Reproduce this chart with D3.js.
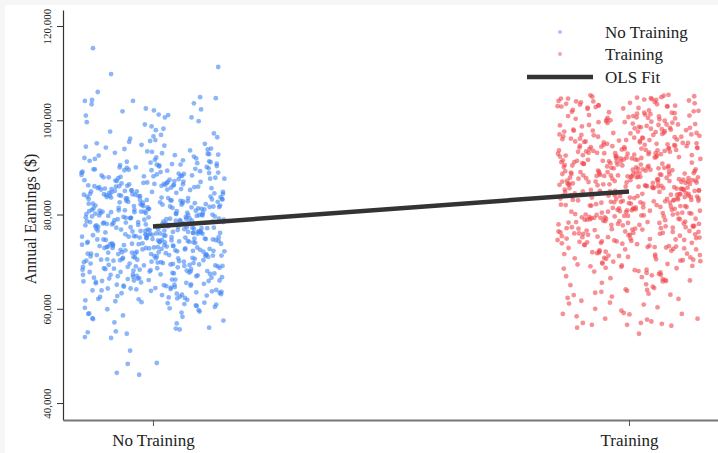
<!DOCTYPE html>
<html>
<head>
<meta charset="utf-8">
<script src="https://cdn.jsdelivr.net/npm/d3@7"></script>
<style>
html,body{margin:0;padding:0;background:#fff;}
svg{display:block;}
text{font-family:"Liberation Serif","Times New Roman",serif;fill:#222;}
</style>
</head>
<body>
<svg id="chart" width="718" height="453"></svg>
<script>
// ---------- data ----------
const categories = ["No Training", "Training"];
const yTicks = [40000, 60000, 80000, 100000, 120000];
const olsFit = [77450, 84900]; // fitted earnings at each category
const legendItems = ["No Training", "Training", "OLS Fit"];

// annual earnings ($ thousands), No Training group
const noTrainEarn = [
78.4,66.2,91.3,72.8,84.1,59.7,75.6,69.9,88.2,80.5,63.4,73.1,95.8,77.2,82.9,67.5,86.7,71.4,79.8,61.9,
74.3,83.6,92.7,68.1,76.9,57.8,81.2,89.4,70.6,64.8,78.9,85.3,72.2,99.1,66.9,80.1,75.2,62.7,87.6,73.7,
69.3,77.7,84.8,90.6,71.9,63.1,79.3,86.1,74.9,67.8,81.7,58.9,76.1,93.4,70.2,83.2,65.6,78.1,88.9,72.5,
80.9,61.2,74.7,96.4,68.6,85.9,77.4,71.1,82.4,64.1,89.8,75.9,66.4,79.1,91.8,73.4,84.4,69.6,101.2,76.6,
72.1,83.9,65.2,78.6,87.1,70.8,60.4,81.5,94.2,74.1,67.1,79.6,86.5,62.3,76.4,90.1,73.9,82.1,68.9,55.6,
77.9,85.6,71.6,64.5,80.3,92.3,75.4,69.1,83.4,88.5,66.6,78.2,73.2,97.6,81.9,63.8,76.8,86.9,70.4,59.2,
74.6,82.7,67.3,79.4,90.9,72.6,84.6,65.9,77.1,61.6,88.1,75.1,80.7,69.4,93.9,71.3,83.1,78.7,64.3,86.3,
73.6,81.1,68.3,76.3,89.1,62.9,79.9,85.1,70.1,95.1,74.4,66.1,82.6,77.6,91.1,72.9,58.3,84.2,69.8,103.4,
80.2,75.8,63.6,87.9,71.8,78.3,67.9,83.8,92.9,74.8,65.1,81.4,76.2,89.6,70.7,60.9,79.2,85.8,73.3,98.2,
68.4,77.3,84.9,72.3,64.9,90.4,80.8,75.3,86.2,69.2,82.2,57.1,78.8,71.7,94.6,66.8,83.3,76.7,88.6,62.1,
79.7,73.8,87.4,65.4,81.6,70.3,91.6,76.1,84.3,68.8,61.4,78.5,74.2,96.9,82.8,67.2,89.3,72.4,80.4,75.7,
63.9,85.4,71.2,77.8,93.1,69.7,83.7,66.3,79.5,88.3,74.5,60.2,81.3,76.5,90.7,72.7,86.6,68.2,100.6,78.0,
75.5,82.3,67.7,80.6,59.4,73.5,87.8,70.9,84.7,64.6,77.5,92.1,71.5,79.0,86.4,65.8,83.5,74.0,95.4,69.0,
81.8,76.0,62.5,88.7,72.0,78.4,66.5,85.2,91.4,73.0,80.0,68.5,83.0,75.0,97.2,70.5,63.2,86.0,77.0,89.9,
71.0,84.0,65.0,79.3,90.3,74.7,61.0,82.5,76.4,87.3,69.5,80.9,73.1,94.0,67.0,78.6,85.5,72.2,58.6,83.6,
77.2,68.7,86.8,74.1,81.0,64.2,89.5,75.9,70.0,92.5,79.9,66.0,84.5,72.9,78.1,99.6,63.0,82.0,76.3,88.0,
73.3,80.6,67.4,85.0,71.1,91.9,77.7,62.4,83.9,75.2,69.3,87.0,79.4,65.3,81.9,74.6,96.1,70.8,86.2,56.9,
78.9,72.6,84.1,66.7,90.0,76.6,81.4,68.0,88.4,74.3,60.6,83.1,77.4,93.6,71.6,79.6,64.7,85.7,73.7,102.3,
82.4,69.6,76.9,87.2,63.7,80.3,74.9,91.2,67.6,78.3,84.8,71.9,89.0,75.6,65.5,81.2,95.0,72.5,86.9,61.8,
70.4,79.1,85.9,73.9,67.2,82.9,77.9,90.8,64.4,75.4,88.8,71.4,80.1,93.3,68.4,83.4,76.1,59.9,86.5,74.4,
81.7,66.9,78.7,72.1,89.2,84.4,69.9,76.8,62.8,80.5,91.5,73.6,85.3,70.6,77.3,97.9,65.7,82.7,75.1,87.5,
68.9,79.8,74.0,86.3,63.3,81.5,71.3,88.1,76.2,92.6,67.9,83.8,78.2,60.1,84.9,72.8,90.2,75.8,69.4,80.8,
77.6,85.1,64.0,73.2,82.1,94.8,70.2,79.2,66.2,87.7,74.8,81.1,58.0,76.7,89.7,71.8,83.2,68.6,78.0,101.9,
72.3,80.2,86.7,65.9,75.3,91.0,69.1,84.2,77.1,62.0,82.6,73.4,88.9,79.5,67.5,85.6,74.2,96.6,71.0,80.0,
83.3,70.7,76.5,63.5,87.9,79.0,73.8,90.5,66.4,81.6,75.7,84.6,68.1,92.0,77.8,61.3,86.1,72.0,78.8,99.8,
74.5,82.2,69.2,85.8,76.0,64.9,89.4,71.7,80.7,93.8,67.3,78.5,83.7,57.5,75.5,87.1,73.0,81.3,70.0,95.6,
79.7,66.0,84.3,72.7,88.3,77.0,62.6,81.8,74.7,90.0,68.3,83.0,76.4,86.4,71.2,59.0,80.4,78.4,92.8,65.1,
73.5,85.0,70.3,79.3,87.6,75.0,63.9,82.8,77.5,94.4,69.7,81.0,74.1,89.6,66.6,84.0,72.4,98.7,78.1,60.7,
80.6,71.5,86.0,76.3,67.8,83.5,90.6,74.6,79.1,64.3,88.2,72.9,82.3,75.9,69.0,93.0,77.2,85.4,62.2,104.1,
46.4,46.0,48.3,48.5,51.1,54.0,53.8,54.7,55.0,55.2,56.0,55.8,
115.3,109.8,111.3,106.0,104.3,104.9,104.7,104.1,101.0,102.5,102.1,100.6,101.1,103.6
];
// horizontal jitter (thousandths of the category spacing), No Training group
const noTrainJitter = [
-132,47,118,-8,-71,96,23,-145,61,-39,140,-97,5,83,-56,129,-20,34,-113,72,
14,-88,137,-41,66,-126,102,-3,-64,28,149,-109,51,-17,91,-140,39,-75,120,-30,
77,-119,-2,58,-94,143,-47,18,109,-68,36,-136,85,-12,-83,124,-25,64,-150,99,
-59,31,-104,135,9,-78,53,-131,88,-35,117,-6,-92,70,-122,42,147,-49,12,-116,
106,-27,80,-139,45,-63,130,-11,-99,25,94,-128,3,67,-43,113,-86,20,-147,56,
-15,123,-73,38,-110,86,-36,146,-54,8,-124,75,29,-90,141,-4,-67,100,-33,60,
132,-52,16,-141,93,-22,49,-107,114,-79,1,68,-134,37,-60,126,-13,82,-95,44,
-84,108,-28,74,-148,19,97,-45,55,-118,138,-9,-70,33,121,-102,62,-37,10,-129,
48,-16,144,-93,27,-57,79,-138,115,-1,-76,41,101,-125,6,133,-48,87,-112,22,
-100,71,-34,127,-62,13,90,-149,43,-19,111,-81,57,-130,24,-42,145,-7,65,-115,
92,-44,35,-120,139,-69,4,84,-103,52,-24,125,-137,17,73,-89,30,-58,105,-10,
-127,59,110,-31,-80,21,142,-53,69,-108,11,-143,95,-26,40,119,-66,-5,81,-97,
26,-135,76,-18,98,-61,131,-38,-87,46,-121,7,112,-74,63,-146,32,89,-50,136,
-40,15,-111,54,-65,148,-29,78,-133,2,103,-82,39,-14,128,-96,50,-123,86,-55,
116,-91,23,-46,134,-117,66,-21,97,-144,42,-72,10,122,-34,57,-101,150,-63,18,
-77,140,-12,85,-128,37,-51,104,-3,-114,74,-40,129,-85,27,-139,61,-23,94,-68,
43,-106,120,-59,8,91,-142,33,-30,138,-93,64,-9,107,-121,19,-48,83,-136,50,
-18,67,-98,145,-36,24,-72,114,-150,55,92,-27,-115,78,-4,130,-61,38,-90,101,
62,-131,11,-79,124,-15,87,-55,41,-103,147,-44,16,-126,70,-8,109,-68,31,-142,
-109,36,95,-22,-147,58,-86,134,5,-40,118,-118,49,-2,80,-57,141,-96,23,73,
127,-74,48,-34,99,-132,17,-11,113,-88,63,-149,30,88,-47,6,-120,136,-28,54,
-53,104,-138,26,-66,81,144,-19,-100,46,-7,121,-83,35,-130,68,13,-58,97,-112,
9,-45,133,-95,60,-24,-140,77,40,-73,111,-10,-127,52,89,-37,146,-103,20,-64,
84,-121,29,117,-51,-5,66,-145,102,-30,15,-84,137,-62,44,-116,76,1,-41,125,
-135,53,-16,91,-104,28,143,-69,-32,119,-1,-92,71,-144,34,108,-54,12,-81,96,
39,-26,131,-113,7,79,-60,-137,50,115,-42,22,-97,148,-14,-76,93,-125,65,-6,
-94,140,-43,18,82,-119,57,-20,126,-70,-148,37,100,-50,3,-134,72,-31,118,45,
24,-80,106,-57,150,-13,-108,63,31,-141,85,-39,14,-122,123,-67,47,-3,-105,90,
-25,112,-71,42,-133,74,8,-99,139,-47,58,-15,-126,94,-36,19,128,-87,51,-143,
-76,-29,-53,8,-48,-143,-88,-55,-137,-78,118,48,
-126,-88,137,-116,-128,99,132,-42,-141,-15,2,25,32,86
];

// annual earnings ($ thousands), Training group
const trainEarn = [
84.2,97.3,72.6,101.8,88.9,63.4,79.1,93.6,85.7,76.4,104.2,90.8,68.3,82.5,99.1,74.9,87.3,95.2,80.6,78.2,
91.4,77.8,103.1,86.2,70.4,83.9,96.6,65.8,89.5,102.7,81.3,75.1,93.0,60.9,87.8,98.4,79.7,84.6,72.0,92.2,
100.5,82.1,88.4,74.3,95.9,79.4,69.1,91.7,85.0,104.8,77.2,97.8,83.4,62.6,89.9,93.9,76.8,86.6,71.5,80.9,
78.6,94.5,86.9,101.2,73.8,81.8,98.9,67.4,90.3,84.9,76.0,103.6,88.0,79.9,57.3,92.9,83.1,96.1,70.9,87.1,
85.3,99.6,75.7,89.2,82.8,104.5,71.2,94.1,78.9,66.7,91.1,86.0,100.1,80.2,64.1,97.0,83.6,73.1,88.6,93.3,
90.6,77.5,102.2,84.0,69.8,96.3,81.0,87.6,74.6,92.5,105.1,79.0,85.9,61.7,98.1,82.9,76.3,89.1,94.8,72.9,
81.6,88.1,95.5,70.1,86.4,101.5,78.3,92.0,83.7,67.9,99.3,75.4,90.0,84.5,103.9,77.0,87.0,59.6,93.7,80.4,
97.6,73.4,85.5,91.9,79.6,104.0,82.3,68.7,89.6,76.6,95.0,86.8,100.9,63.0,81.5,93.1,74.0,88.3,98.6,84.3,
76.1,92.6,87.4,102.9,71.7,83.3,96.8,80.0,65.2,90.4,85.1,78.7,99.9,94.3,73.6,88.7,104.7,82.0,69.5,91.3,
86.5,79.3,94.0,72.3,100.3,84.8,89.8,77.9,62.1,97.2,81.9,92.8,75.8,103.3,87.9,70.6,83.0,95.7,66.3,90.1,
93.5,80.8,75.2,98.3,88.5,84.1,104.3,71.0,91.6,78.5,86.1,96.0,67.2,82.6,101.0,89.3,74.4,58.4,94.6,85.8,
79.8,102.5,87.2,73.0,95.3,83.8,90.9,68.0,99.0,76.9,85.4,92.3,81.2,105.3,64.7,88.8,77.3,97.4,84.7,71.9,
89.0,74.7,96.9,82.2,101.4,86.3,70.3,93.2,78.0,87.7,103.0,80.5,91.0,65.5,84.4,98.0,75.9,94.2,61.3,83.5,
92.1,85.6,77.6,100.7,72.4,89.4,81.4,95.6,69.4,86.7,104.9,79.2,93.8,83.2,76.2,98.8,88.2,73.3,90.7,102.0,
82.7,97.1,74.1,87.5,91.5,78.4,103.7,84.6,66.0,94.9,80.1,89.7,99.4,71.4,85.2,60.3,92.4,77.1,96.4,88.0,
75.5,90.2,101.6,83.0,86.9,68.9,95.1,79.5,92.7,104.6,81.7,74.8,88.4,97.9,63.8,84.9,78.8,100.0,87.3,70.7,
94.4,81.1,88.6,72.7,99.7,85.0,76.5,102.8,90.5,67.7,83.6,96.5,79.1,86.0,93.4,57.9,80.7,103.4,74.2,89.1,
87.8,73.9,95.8,82.4,105.0,77.4,91.2,84.2,69.6,98.5,86.6,80.3,93.9,75.0,101.1,64.4,89.9,78.1,92.9,83.9,
80.0,96.2,85.7,71.3,90.8,103.8,82.8,77.7,94.7,66.9,88.1,99.2,75.3,86.2,92.0,62.9,84.3,100.8,79.4,91.8,
98.2,76.7,89.5,83.1,70.0,95.4,87.1,104.1,81.6,73.7,91.4,85.5,78.6,97.5,68.5,93.5,80.9,102.4,86.8,59.1,
83.4,92.2,74.5,100.2,88.3,79.8,96.7,72.1,85.9,94.0,65.0,90.3,81.8,103.2,77.0,87.6,99.5,84.1,70.5,93.1,
89.2,81.3,97.7,76.0,104.4,86.4,73.2,91.9,84.0,67.1,95.2,79.3,88.8,101.7,82.5,61.1,93.6,75.6,98.7,85.3,
77.8,94.1,87.0,102.6,80.4,71.8,90.0,96.1,83.7,69.2,88.5,78.9,100.4,92.5,74.9,85.6,63.6,97.3,81.0,105.2,
91.6,84.5,76.3,99.8,87.9,72.6,94.3,82.0,89.6,103.5,79.0,66.5,86.1,95.8,75.2,92.6,80.6,101.3,56.4,88.7,
85.8,78.2,93.3,101.9,74.0,90.6,83.3,97.0,68.2,87.4,79.6,104.0,82.9,95.5,71.1,89.0,76.8,99.1,84.8,64.0,
96.5,80.2,88.0,73.5,92.8,86.3,102.1,77.3,84.7,70.8,98.0,91.1,81.5,65.9,94.5,87.2,75.7,100.6,83.1,89.8,
82.6,99.0,74.6,90.9,86.5,105.4,79.7,93.0,72.2,85.1,96.9,67.6,88.3,81.2,103.0,76.1,91.7,60.0,84.4,95.0,
88.9,77.1,94.8,83.5,100.9,71.6,87.7,92.3,80.8,69.0,97.6,85.0,78.4,102.9,90.4,74.3,86.9,62.3,93.7,82.3,
79.1,91.3,85.6,104.6,73.1,88.2,96.3,82.7,68.6,94.2,80.3,99.6,87.5,76.4,90.0,101.6,84.0,70.2,97.8,58.8,
93.0,86.7,75.9,98.4,83.8,89.3,103.1,78.0,92.1,66.1,85.3,95.3,81.9,72.8,100.5,88.6,77.6,94.6,63.2,87.0,
54.7,56.0,57.0,56.6,56.6,57.0,57.7,56.8,57.9,58.9,58.9
];
// horizontal jitter (thousandths of the category spacing), Training group
const trainJitter = [
88,-33,141,-120,15,-71,104,-147,52,-8,126,-95,37,-58,79,-131,3,113,-44,64,
-109,22,97,-66,135,-19,-138,71,45,-87,10,148,-52,31,-124,86,-2,119,-77,57,
40,-143,68,-26,101,-99,133,-11,-61,17,92,-116,146,-36,74,-83,28,-129,55,6,
-50,121,-85,34,-14,108,-145,63,83,-40,-105,138,19,-68,47,-3,95,-122,129,-30,
115,-64,2,-134,76,48,-21,144,-93,27,-115,61,-47,102,-7,131,-78,39,-140,86,
-24,77,-118,125,-56,11,90,-35,-150,59,137,-82,20,-100,69,-13,146,-63,33,-127,
66,-3,-91,150,-41,96,-127,26,117,-73,8,-141,82,-29,54,-106,124,-16,99,-57,
-136,43,111,-18,73,-111,30,-49,140,-89,58,-5,-128,87,14,-67,132,-38,21,106,
9,-97,59,-142,122,-27,-74,92,36,-119,147,-54,75,-10,-94,117,46,-133,81,-42,
128,-60,26,89,-112,64,-32,-148,104,3,-79,41,139,-103,16,-48,93,-21,71,-137,
-75,149,-44,12,85,-123,57,-2,-86,118,35,-140,67,-31,127,-65,5,-110,97,49,
31,-12,-130,78,-53,143,-98,20,62,-36,109,-145,8,-81,50,136,-120,74,-25,-63,
-102,98,51,-69,17,-146,113,42,-23,-90,80,-6,132,-57,28,-117,65,143,-40,11,
54,-125,137,-1,-62,91,-34,23,-108,119,68,-79,-15,103,-144,37,-52,84,-95,146,
-17,70,-88,105,-139,39,2,-59,128,81,-113,19,-45,149,-80,60,-28,-131,96,24,
107,-46,32,-107,61,-16,142,-83,11,-128,88,44,-61,120,-4,-97,76,-39,133,-114,
-58,14,-121,93,47,-29,127,-70,-135,66,2,110,-48,38,-90,144,-19,59,-104,84,
79,-141,43,0,-77,135,-26,101,-56,25,-118,71,-9,141,-84,53,-37,115,-149,18,
-91,29,123,-43,70,-101,52,-13,95,-132,6,139,-66,34,-27,-116,108,63,-51,150,
46,-72,8,131,-33,-94,85,-148,121,17,-55,100,-20,56,-137,75,-4,-87,142,-11,
-144,105,-31,64,-96,26,148,-49,-7,83,-123,41,118,-64,13,-106,91,-30,57,-85,
138,-21,75,-115,32,-54,99,6,-139,48,124,-73,22,-42,86,-126,60,-1,-99,114,
-37,84,-140,20,112,-67,39,-103,130,-15,65,-88,97,-133,3,51,-58,142,-24,73,
18,-114,92,-48,145,-8,-80,58,29,-132,107,-39,68,-6,-98,132,-121,45,89,-62,
95,-2,-107,136,-59,25,80,-146,12,114,-30,-75,146,-113,55,-45,7,103,-134,38,
-65,131,4,-93,67,-127,42,119,-17,-52,88,-142,30,78,-35,140,-86,16,-118,62,
24,-84,116,-39,-125,83,-10,56,-62,147,-100,37,-23,96,-150,71,13,-71,125,-46,
-122,67,-53,102,9,-136,125,-26,44,-81,19,138,-111,81,-14,-57,110,-129,35,4,
140,-17,72,-143,54,-68,28,-38,100,-104,127,-9,61,-148,15,90,-43,108,-76,1,
-29,50,-96,128,-119,35,-64,147,-5,76,-135,23,-82,116,-45,9,134,-103,41,-70,
21,-109,-97,-78,-4,25,38,69,-50,-139,111
];

// ---------- chart ----------
const W = 718, H = 453;
const svg = d3.select("#chart");
const colors = ["#3f86f4", "#f0464e"];

svg.append("rect").attr("width", W).attr("height", H).attr("fill", "#f6f6f6");
svg.append("rect").attr("x", 5).attr("y", 5).attr("width", W - 5).attr("height", H - 5).attr("fill", "#fff");

const x = d3.scaleLinear().domain([-0.189, 1.187]).range([63, 718]);
const y = d3.scaleLinear().domain([36400, 123400]).range([420, 10]);

function buildPoints(earn, jit, cat) {
  const n = Math.min(earn.length, jit.length);
  return d3.range(n).map(i => ({ cx: cat + jit[i] / 1000, v: earn[i] * 1000, cat }));
}
const points = buildPoints(noTrainEarn, noTrainJitter, 0).concat(buildPoints(trainEarn, trainJitter, 1));

svg.append("g").selectAll("circle").data(points).join("circle")
  .attr("cx", d => x(d.cx)).attr("cy", d => y(d.v)).attr("r", 2.4)
  .attr("fill", d => colors[d.cat]).attr("fill-opacity", 0.6);

// axes
const yAxis = svg.append("g").attr("transform", "translate(63,0)")
  .call(d3.axisLeft(y).tickValues(yTicks).tickSize(6).tickSizeOuter(0).tickFormat(d3.format(",")));
yAxis.select(".domain").attr("stroke", "#333").attr("stroke-width", 1.2);
yAxis.selectAll(".tick line").attr("stroke", "#333");
yAxis.selectAll(".tick text")
  .attr("x", 0)
  .attr("transform", "translate(-16,0) rotate(-90)")
  .attr("text-anchor", "middle").attr("dy", "0.35em")
  .style("font-size", "11px").attr("fill", "#333");

const xAxis = svg.append("g").attr("transform", "translate(0,420)")
  .call(d3.axisBottom(x).tickValues([0, 1]).tickSize(6).tickSizeOuter(0).tickPadding(8).tickFormat(i => categories[i]));
xAxis.select(".domain").attr("stroke", "#777").attr("stroke-width", 1.8);
xAxis.selectAll(".tick line").attr("stroke", "#555");
xAxis.selectAll(".tick text").style("font-size", "17px").attr("fill", "#222");

svg.append("text").attr("transform", "translate(30,219) rotate(-90)")
  .attr("text-anchor", "middle").attr("dy", "0.35em")
  .style("font-size", "16px").attr("fill", "#333").text("Annual Earnings ($)");

// OLS fit line
svg.append("line")
  .attr("x1", x(0)).attr("y1", y(olsFit[0]))
  .attr("x2", x(1)).attr("y2", y(olsFit[1]))
  .attr("stroke", "#333").attr("stroke-width", 4.5);

// legend
const lg = svg.append("g");
const rowsY = [32, 54, 77];
lg.append("circle").attr("cx", 560).attr("cy", rowsY[0]).attr("r", 2).attr("fill", colors[0]).attr("fill-opacity", 0.5);
lg.append("circle").attr("cx", 560).attr("cy", rowsY[1]).attr("r", 2).attr("fill", colors[1]).attr("fill-opacity", 0.5);
lg.append("line").attr("x1", 527).attr("x2", 593).attr("y1", rowsY[2]).attr("y2", rowsY[2])
  .attr("stroke", "#333").attr("stroke-width", 4.5);
lg.selectAll("text").data(legendItems).join("text")
  .attr("x", 605).attr("y", (d, i) => rowsY[i]).attr("dy", "0.35em")
  .style("font-size", "17px").attr("fill", "#222").text(d => d);
</script>
</body>
</html>
